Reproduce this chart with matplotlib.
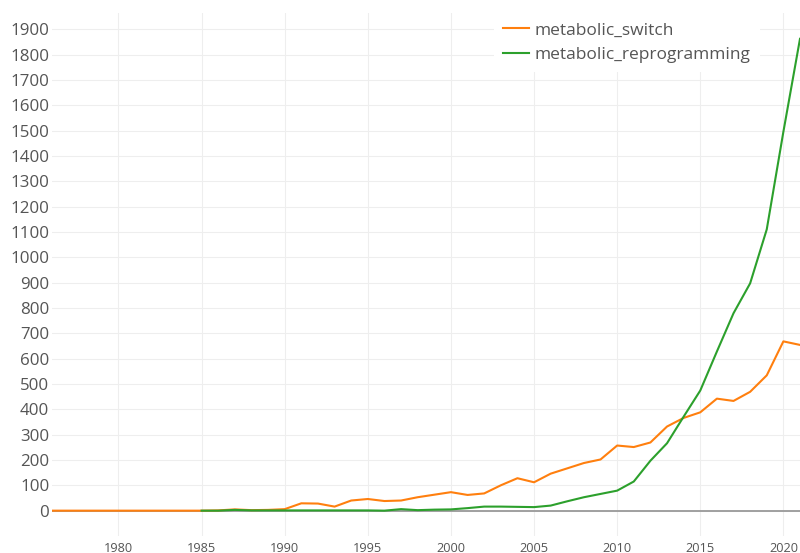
import matplotlib.pyplot as plt

# ===== data =====
years_switch = list(range(1976, 2022))
metabolic_switch = [0, 0, 0, 0, 0, 0, 0, 0, 0,
                    0, 1, 5, 2, 3, 6, 29, 28, 16, 40,
                    46, 38, 40, 53, 63, 73, 62, 68, 100, 128,
                    112, 146, 167, 188, 202, 257, 251, 269, 332, 366,
                    388, 442, 433, 469, 534, 668, 654]

years_reprog = list(range(1985, 2022))
metabolic_reprogramming = [0, 0, 3, 1, 1, 1, 1, 1, 1, 1,
                           1, 0, 6, 2, 4, 5, 10, 16, 16, 15,
                           14, 20, 37, 53, 66, 79, 115, 197, 266, 371,
                           474, 628, 779, 897, 1110, 1495, 1862]

x_ticks = list(range(1980, 2021, 5))
y_ticks = list(range(0, 2000, 100))

plt.rcParams['font.family'] = ['Open Sans', 'DejaVu Sans']

W, H = 800, 553
fig = plt.figure(figsize=(W / 100, H / 100), dpi=100)
ax = fig.add_axes([52 / W, 1 - 536 / H, (W - 52) / W, (536 - 12.7) / H])

ax.axhline(0, color='#999999', lw=1.3, zorder=1)
ax.plot(years_switch, metabolic_switch, color='#ff7f0e', lw=1.5,
        label='metabolic_switch', zorder=3)
ax.plot(years_reprog, metabolic_reprogramming, color='#2ca02c', lw=1.5,
        label='metabolic_reprogramming', zorder=3)

ax.set_xlim(1976, 2021)
ax.set_ylim(-100, 1965)
ax.set_xticks(x_ticks)
ax.set_yticks(y_ticks)
ax.tick_params(axis='x', length=0, pad=4, labelsize=9.2, labelcolor='#555555')
ax.tick_params(axis='y', length=0, pad=2, labelsize=12.2, labelcolor='#555555')
ax.grid(True, color='#eeeeee', lw=0.8)
ax.set_axisbelow(True)
for s in ax.spines.values():
    s.set_visible(False)

leg = ax.legend(loc='upper right', bbox_to_anchor=(760 / W, 1 - 12.7 / H),
                bbox_transform=fig.transFigure, fontsize=12.5, frameon=True,
                handlelength=1.45, handletextpad=0.35, labelspacing=0.47,
                borderpad=0.55, borderaxespad=0, fancybox=False)
leg.get_frame().set_facecolor('white')
leg.get_frame().set_edgecolor('none')
leg.get_frame().set_alpha(1)
for t in leg.get_texts():
    t.set_color('#555555')

fig.savefig('out.png', dpi=100)
